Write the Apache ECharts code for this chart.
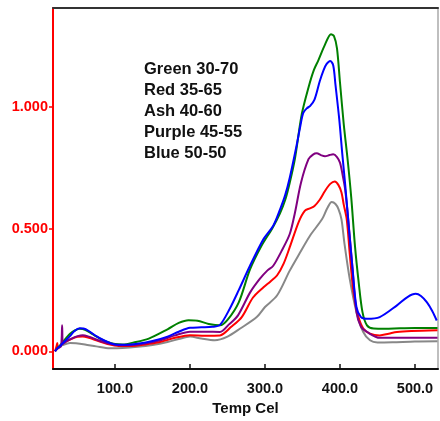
<!DOCTYPE html>
<html>
<head>
<meta charset="utf-8">
<script src="https://cdn.jsdelivr.net/npm/echarts@6/dist/echarts.min.js"></script>
<style>
html,body{margin:0;padding:0;background:#fff;}
#chart{width:440px;height:421px;}
</style>
</head>
<body>
<div id="chart"></div>
<script>
// ---- data ----
var seriesNames = ['Green 30-70', 'Red 35-65', 'Ash 40-60', 'Purple 45-55', 'Blue 50-50'];
var xTicks = [100, 200, 300, 400, 500];
var yTicks = [0, 0.5, 1.0];
var xName = 'Temp Cel';

var greenT = [20,23,27,31,35,40,47,53,60,70,80,90,100,110,125,145,170,185,198,210,225,240,250,265,280,295,310,320,327,333,340,349,358,365,371,380,388,392,396,400,405,410,415,420,425,430,436,445,460,480,500,530];
var greenV = [0.0,0.012,0.025,0.04,0.055,0.072,0.086,0.092,0.088,0.07,0.052,0.038,0.03,0.028,0.036,0.052,0.09,0.116,0.127,0.125,0.112,0.106,0.128,0.2,0.335,0.43,0.505,0.565,0.62,0.69,0.79,0.97,1.08,1.15,1.19,1.255,1.298,1.29,1.24,1.10,0.93,0.79,0.63,0.43,0.28,0.16,0.106,0.093,0.092,0.094,0.095,0.095];

var redT = [20,22,23,24,27,32,40,50,57,65,75,90,105,120,140,160,180,200,220,240,255,269,284,298,307,316,325,333,345,353,360,366,373,380,387,393,398,402,405,409,413,418,424,431,440,453,465,476,495,530];
var redV = [0.0,0.02,0.034,0.012,0.022,0.035,0.048,0.059,0.06,0.055,0.045,0.03,0.022,0.022,0.028,0.038,0.055,0.066,0.064,0.065,0.1,0.14,0.22,0.262,0.285,0.31,0.36,0.426,0.53,0.575,0.585,0.595,0.62,0.656,0.685,0.695,0.68,0.65,0.6,0.54,0.4,0.242,0.147,0.093,0.072,0.065,0.072,0.079,0.083,0.086];

var ashT = [20,24,30,40,48,60,75,93,110,130,150,170,185,200,215,233,250,267,289,300,316,333,346,360,376,383,389,394,398,402,406,413,422,431,440,450,470,500,530];
var ashV = [0.0,0.015,0.025,0.034,0.033,0.028,0.02,0.012,0.013,0.018,0.026,0.038,0.05,0.06,0.052,0.045,0.06,0.093,0.14,0.181,0.228,0.33,0.4,0.473,0.54,0.585,0.611,0.603,0.582,0.54,0.44,0.296,0.16,0.079,0.045,0.036,0.037,0.04,0.041];

var purpleT = [20,24,28,29.5,30.5,35,42,50,57,65,75,90,105,120,140,160,180,200,220,240,252,264,280,293,303,311,322,333,340,348,358,364,369,375,380,386,391,396,400,403,407,411,416,422,428,436,453,480,530];
var purpleV = [0.0,0.012,0.02,0.106,0.03,0.04,0.052,0.062,0.066,0.06,0.048,0.033,0.025,0.025,0.032,0.045,0.065,0.08,0.08,0.079,0.11,0.147,0.24,0.296,0.33,0.35,0.41,0.48,0.568,0.69,0.786,0.805,0.81,0.802,0.798,0.803,0.806,0.795,0.772,0.73,0.66,0.54,0.364,0.16,0.1,0.079,0.055,0.055,0.055];

var blueT = [20,23,27,31,36,40,46,53,58,65,75,85,95,105,115,130,150,170,185,200,215,230,240,253,265,280,298,311,320,327,333,342,347,351,356,360,366,373,378,382,387,391,394,399,403,407,412,417,422,428,436,453,476,490,501,508,516,523,529];
var blueV = [0.0,0.012,0.022,0.035,0.05,0.062,0.083,0.094,0.093,0.083,0.062,0.045,0.032,0.027,0.027,0.031,0.042,0.06,0.08,0.096,0.098,0.1,0.108,0.174,0.25,0.35,0.459,0.514,0.58,0.64,0.71,0.84,0.92,0.976,0.995,1.003,1.03,1.105,1.15,1.175,1.188,1.17,1.09,0.95,0.81,0.68,0.5,0.33,0.18,0.14,0.133,0.14,0.188,0.222,0.235,0.226,0.2,0.165,0.126];

function pairs(t, v) { return t.map(function (x, i) { return [x, v[i]]; }); }

var chart = echarts.init(document.getElementById('chart'), null, {renderer: 'canvas'});
var FONT = 'Liberation Sans';

function line(name, color, t, v, z) {
  return {
    name: name, type: 'line', data: pairs(t, v),
    xAxisIndex: 0, yAxisIndex: 0,
    smooth: 0.3, symbol: 'none', z: z,
    lineStyle: {color: color, width: 2},
    animation: false
  };
}

chart.setOption({
  animation: false,
  backgroundColor: '#fff',
  grid: {left: 53, right: 2, top: 8, bottom: 50, containLabel: false},
  xAxis: [{
    type: 'value', min: 17.3, max: 530.7, position: 'bottom',
    name: xName, nameLocation: 'middle', nameGap: 31,
    nameTextStyle: {fontFamily: FONT, fontWeight: 'bold', fontSize: 15, color: '#111'},
    axisLine: {show: true, onZero: false, lineStyle: {color: '#111', width: 2}},
    axisTick: {show: true, inside: true, length: 5, customValues: xTicks, lineStyle: {color: '#111', width: 1.5}},
    axisLabel: {customValues: xTicks, margin: 12, fontFamily: FONT, fontWeight: 'bold', fontSize: 14.5, color: '#111',
      formatter: function (v) { return v.toFixed(1); }},
    splitLine: {show: false}
  }, {
    type: 'value', min: 17.3, max: 530.7, position: 'top',
    axisLine: {show: true, onZero: false, lineStyle: {color: '#333', width: 2}},
    axisTick: {show: false}, axisLabel: {show: false}, splitLine: {show: false}
  }],
  yAxis: [{
    type: 'value', min: -0.073, max: 1.405, position: 'left',
    axisLine: {show: true, onZero: false, lineStyle: {color: '#ff0000', width: 2}},
    axisTick: {show: true, inside: false, length: 4, customValues: yTicks, lineStyle: {color: '#ff0000', width: 1.5}},
    axisLabel: {customValues: yTicks, margin: 5, fontFamily: FONT, fontWeight: 'bold', fontSize: 14.5, color: '#ff0000',
      formatter: function (v) { return v.toFixed(3); }},
    splitLine: {show: false}
  }, {
    type: 'value', min: -0.073, max: 1.405, position: 'right',
    axisLine: {show: true, onZero: false, lineStyle: {color: '#aaaaaa', width: 1.5}},
    axisTick: {show: false}, axisLabel: {show: false}, splitLine: {show: false}
  }],
  graphic: seriesNames.map(function (n, i) {
    return {
      type: 'text', left: 144, top: 60.5 + i * 21,
      style: {text: n, fontFamily: FONT, fontWeight: 'bold', fontSize: 16.5, fill: '#111'}
    };
  }),
  series: [
    line(seriesNames[2], '#888888', ashT, ashV, 2),
    line(seriesNames[1], '#ff0000', redT, redV, 3),
    line(seriesNames[0], '#008000', greenT, greenV, 4),
    line(seriesNames[3], '#800080', purpleT, purpleV, 5),
    line(seriesNames[4], '#0000ff', blueT, blueV, 6)
  ]
});
</script>
</body>
</html>
